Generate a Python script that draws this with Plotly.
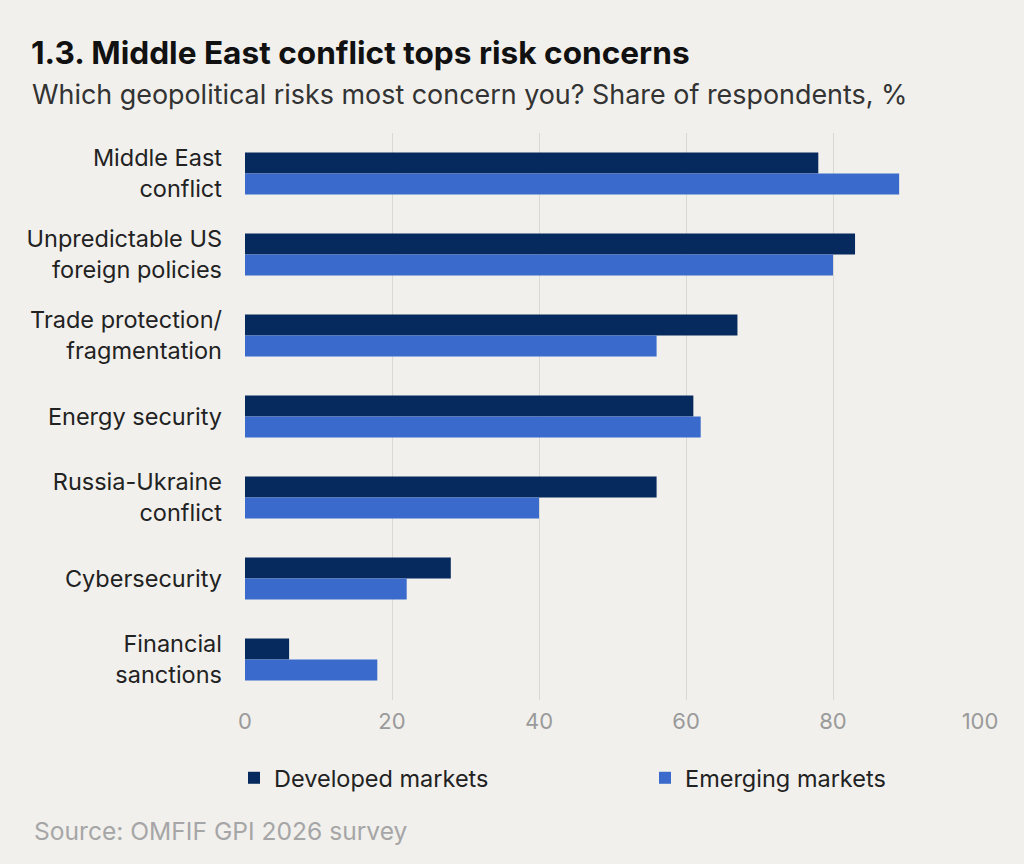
import plotly.graph_objects as go

categories = ["Middle East<br>conflict", "Unpredictable US<br>foreign policies",
              "Trade protection/<br>fragmentation", "Energy security",
              "Russia-Ukraine<br>conflict", "Cybersecurity", "Financial<br>sanctions"]
developed = [78, 83, 67, 61, 56, 28, 6]
emerging = [89, 80, 56, 62, 40, 22, 18]
x_ticks = [0, 20, 40, 60, 80, 100]

W, H = 1024, 864
L, R, T, B = 245, 980, 133, 700
BG = "#f1f0ed"
DARK = "#072a5e"
BLUE = "#3a6acb"
FONT = "Inter"

def px(x):
    return (x - L) / (R - L)

def py(y):
    return (B - y) / (B - T)

fig = go.Figure()
fig.add_trace(go.Bar(y=categories, x=developed, orientation="h", name="Developed markets",
                     marker=dict(color=DARK, line=dict(width=0)), legend="legend"))
fig.add_trace(go.Bar(y=categories, x=emerging, orientation="h", name="Emerging markets",
                     marker=dict(color=BLUE, line=dict(width=0)), legend="legend2"))

leg_common = dict(orientation="h", yanchor="middle", xanchor="left", bgcolor="rgba(0,0,0,0)",
                  font=dict(size=23.5, color="#222222", family=FONT), itemsizing="constant")

fig.update_layout(
    width=W, height=H,
    margin=dict(l=L, r=W - R, t=T, b=H - B, pad=0),
    paper_bgcolor=BG, plot_bgcolor=BG,
    barmode="group", bargap=0.48, bargroupgap=0,
    font=dict(family=FONT, size=20, color="#222222"),
    showlegend=True,
    legend=dict(x=px(234), y=py(778), **leg_common),
    legend2=dict(x=px(645), y=py(778), **leg_common),
    xaxis=dict(range=[0, 100], tickvals=x_ticks, showgrid=True, gridcolor="#d9d8d5", gridwidth=1,
               zeroline=False, showline=False, ticks="",
               tickfont=dict(size=22, color="#9a9a9a"), ticklabelstandoff=6),
    yaxis=dict(autorange="reversed", showgrid=False, showline=False, ticks="",
               tickfont=dict(size=23.5, color="#222222"), ticklabelstandoff=22),
)

fig.add_annotation(text="<b>1.3. Middle East conflict tops risk concerns</b>", xref="paper", yref="paper",
                   x=px(29), y=py(52), xanchor="left", yanchor="middle", showarrow=False,
                   font=dict(size=31.6, color="#111111", family=FONT))
fig.add_annotation(text="Which geopolitical risks most concern you? Share of respondents, %", xref="paper", yref="paper",
                   x=px(30), y=py(94), xanchor="left", yanchor="middle", showarrow=False,
                   font=dict(size=26.9, color="#333333", family=FONT))
fig.add_annotation(text="Source: OMFIF GPI 2026 survey", xref="paper", yref="paper",
                   x=px(32), y=py(831), xanchor="left", yanchor="middle", showarrow=False,
                   font=dict(size=24.6, color="#a6a6a6", family=FONT))

fig.write_html("out.html")
